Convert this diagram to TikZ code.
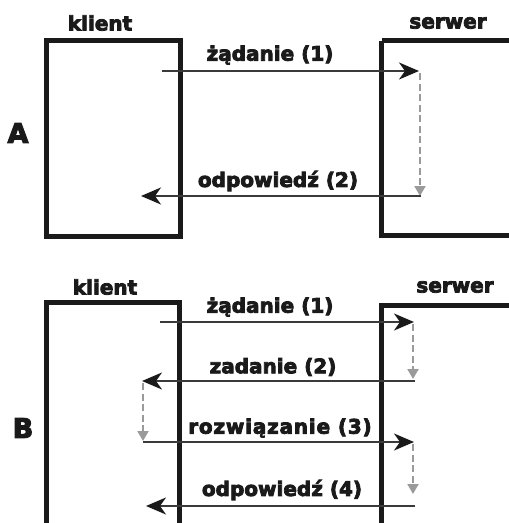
\documentclass[tikz,border=0pt]{standalone}
\usepackage{fontspec}
\setmainfont{DejaVu Sans}[BoldFeatures={FakeBold=4}]
\usetikzlibrary{arrows.meta}
\definecolor{ink}{HTML}{1A1A1A}
\definecolor{msgline}{HTML}{3A3A3A}
\definecolor{flow}{HTML}{9A9A9A}
\tikzset{
  party/.style={draw=ink, line width=5pt, fill=none, inner sep=0pt},
  title/.style={font=\bfseries\fontsize{20}{22}\selectfont, text=ink, inner sep=0pt},
  msg/.style={font=\bfseries\fontsize{20}{22}\selectfont, text=ink, inner sep=0pt},
  panel/.style={font=\bfseries\fontsize{27}{29}\selectfont, text=ink, inner sep=0pt},
  call/.style={draw=msgline, line width=1.8pt,
    -{Stealth[length=20pt,width=17pt,inset=6pt,fill=ink,color=ink]}},
  work/.style={draw=flow, line width=2pt, dash pattern=on 7pt off 3.5pt,
    -{Triangle[length=10pt,width=11pt,fill=flow,color=flow]}}
}
\begin{document}
\begin{tikzpicture}[x=1pt,y=-1pt]
\useasboundingbox (0,0) rectangle (509,523);

% ---------- panel A ----------
\draw[party] (46.5,40.5) rectangle (180.5,236);
\draw[party] (381.5,40.5) -- (381.5,235) -- (515,235);
\draw[party] (381.5,40.5) -- (515,40.5);
\node[title] (klA) at (100,23) {klient};
\node[title] (seA) at (448,23) {serwer};
\node[panel] (pA) at (18,133) {A};

\coordinate (a1s) at (162,71);
\coordinate (a1e) at (419,71);
\coordinate (a2s) at (421,196);
\coordinate (a2e) at (141,196);
\coordinate (a1d) at (420,196);

\draw[call] (a1s) -- (a1e);
\node[msg] (lA1) at (270,55) {żądanie (1)};
\draw[work] (420,73) -- (a1d);
\draw[call] (a2s) -- (a2e);
\node[msg] (lA2) at (278,181) {odpowiedź (2)};

% ---------- panel B ----------
\draw[party] (46.5,530) -- (46.5,302.5) -- (179.5,302.5) -- (179.5,530);
\draw[party] (381.5,530) -- (381.5,305) -- (515,305);
\node[title] (klB) at (105,287) {klient};
\node[title] (seB) at (455,287) {serwer};
\node[panel] (pB) at (23,428) {B};

\coordinate (b1s) at (160,322);
\coordinate (b1e) at (414,322);
\coordinate (b2s) at (415,381);
\coordinate (b2e) at (142,381);
\coordinate (b3s) at (143,442);
\coordinate (b3e) at (414,442);
\coordinate (b4s) at (415,506);
\coordinate (b4e) at (146,506);

\draw[call] (b1s) -- (b1e);
\node[msg] (lB1) at (270,307) {żądanie (1)};
\draw[work] (413,324) -- (413,379);

\draw[call] (b2s) -- (b2e);
\node[msg] (lB2) at (273,367) {zadanie (2)};
\draw[work] (143,383) -- (143,441);

\draw[call] (b3s) -- (b3e);
\node[msg] (lB3) at (280,428) {\addfontfeatures{LetterSpace=4}rozwiązanie (3)};
\draw[work] (413,444) -- (413,494);

\draw[call] (b4s) -- (b4e);
\node[msg] (lB4) at (282,490) {odpowiedź (4)};
\end{tikzpicture}
\end{document}
